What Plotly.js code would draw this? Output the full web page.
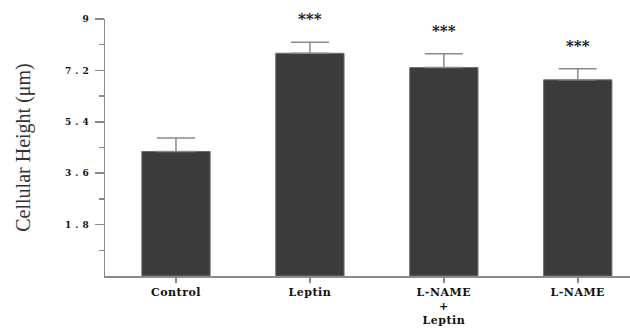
<!DOCTYPE html>
<html>
<head>
<meta charset="utf-8">
<script src="https://cdn.plot.ly/plotly-3.0.1.min.js"></script>
<style>
html,body{margin:0;padding:0;background:#fff;}
#chart{width:630px;height:331px;}
.ytick text{letter-spacing:4px;}
.xtick text{letter-spacing:0.5px;}
</style>
</head>
<body>
<div id="chart"></div>
<script>
const categories = ["Control", "Leptin", "L-NAME<br>+<br>Leptin", "L-NAME"];
const means = [4.36, 7.80, 7.30, 6.87];
const errors = [0.47, 0.39, 0.48, 0.39];
const significance = ["", "***", "***", "***"];
const yTickVals = [1.8, 3.6, 5.4, 7.2, 9];
const yTickText = ["1.8", "3.6", "5.4", "7.2", "9"];
const yMinorVals = [0.9, 2.7, 4.5, 6.3, 8.1];

const xIdx = categories.map((c, i) => i);

const trace = {
  type: "bar",
  x: xIdx,
  y: means,
  width: 0.51,
  marker: {color: "#3b3b3b", line: {color: "#6e6e6e", width: 1}},
  error_y: {type: "data", array: errors, arrayminus: errors.map(() => 0), symmetric: false,
            color: "#8a8a8a", thickness: 1.5, width: 19},
  hoverinfo: "none"
};

const annotations = significance.map((s, i) => ({
  x: i, y: means[i] + errors[i], xref: "x", yref: "y",
  text: s, showarrow: false, yanchor: "bottom", yshift: 12,
  font: {family: "DejaVu Serif", size: 15, color: "#111", weight: "bold"}
})).filter(a => a.text);

const layout = {
  width: 630, height: 331,
  margin: {l: 105, r: 0, t: 19, b: 55},
  paper_bgcolor: "#fff", plot_bgcolor: "#fff",
  showlegend: false,
  xaxis: {
    range: [-0.53, 3.39],
    tickmode: "array", tickvals: xIdx, ticktext: categories,
    ticks: "outside", ticklen: 5, tickcolor: "#888", tickwidth: 1.5,
    showline: true, linecolor: "#8a8a8a", linewidth: 1.5,
    showgrid: false, zeroline: false,
    tickfont: {family: "DejaVu Serif", size: 11, color: "#111", weight: "bold"}
  },
  yaxis: {
    range: [0, 9],
    tickmode: "array", tickvals: yTickVals, ticktext: yTickText,
    ticks: "outside", ticklen: 9, tickcolor: "#888", tickwidth: 1.5,
    minor: {tickmode: "array", tickvals: yMinorVals, ticks: "outside", ticklen: 5, tickcolor: "#888", tickwidth: 1.5, showgrid: false},
    showline: true, linecolor: "#8a8a8a", linewidth: 1.5,
    showgrid: false, zeroline: false,
    tickfont: {family: "DejaVu Serif", size: 9, color: "#111", weight: "bold"},
    title: {text: "Cellular Height (μm)", standoff: 29,
            font: {family: "Liberation Serif", size: 20, color: "#333"}}
  },
  annotations: annotations
};

Plotly.newPlot("chart", [trace], layout, {displayModeBar: false, staticPlot: true});
</script>
</body>
</html>
